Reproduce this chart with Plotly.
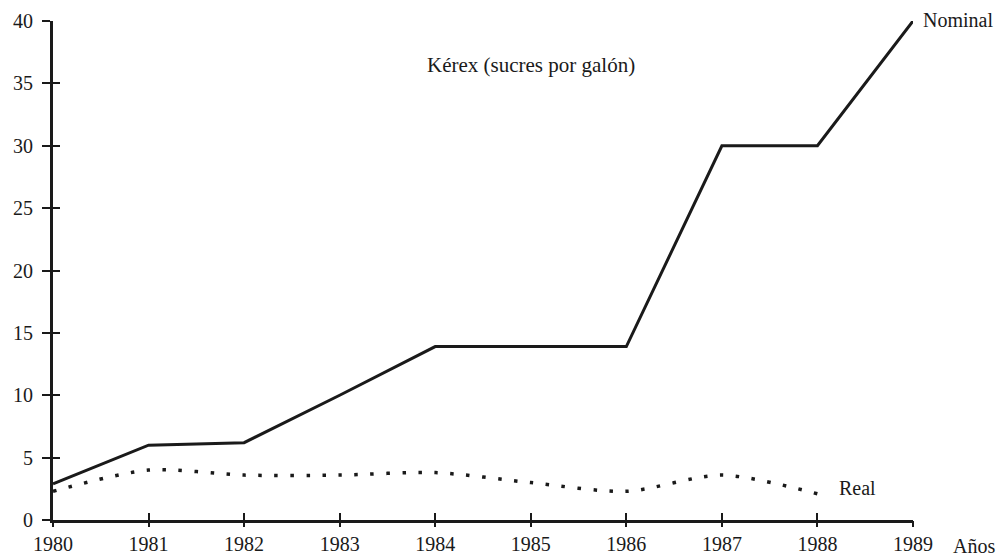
import plotly.graph_objects as go

years = [1980, 1981, 1982, 1983, 1984, 1985, 1986, 1987, 1988, 1989]
nominal = [2.9, 6.0, 6.2, 10.0, 13.9, 13.9, 13.9, 30.0, 30.0, 40.0]
real_years = [1980, 1981, 1982, 1983, 1984, 1985, 1986, 1987, 1988]
real = [2.3, 4.0, 3.6, 3.6, 3.8, 3.0, 2.3, 3.6, 2.1]
y_ticks = [0, 5, 10, 15, 20, 25, 30, 35, 40]

FONT = "Liberation Serif"
INK = "#1a1a1a"
fig = go.Figure()
fig.add_trace(go.Scatter(x=years, y=nominal, mode="lines",
                         line=dict(color=INK, width=3), name="Nominal"))
fig.add_trace(go.Scatter(x=real_years, y=real, mode="lines",
                         line=dict(color=INK, width=3.5, dash="3.5px,12.5px", shape="spline", smoothing=0.8),
                         name="Real"))
# invisible trace to activate overlay axes (for ticks crossing the axis lines)
fig.add_trace(go.Scatter(x=[years[0]], y=[y_ticks[0]], xaxis="x2", yaxis="y2",
                         mode="markers", marker=dict(opacity=0), hoverinfo="skip"))

fig.update_layout(
    width=997, height=552,
    margin=dict(l=45, r=92, t=13, b=40),
    paper_bgcolor="white", plot_bgcolor="white",
    showlegend=False,
    font=dict(family=FONT, size=20, color=INK),
    xaxis=dict(range=[1980, 1989], tickvals=years, showgrid=False, zeroline=False,
               showline=True, linecolor=INK, linewidth=3, automargin=False,
               ticks="inside", ticklen=7, tickwidth=2, tickcolor=INK, showticklabels=False),
    xaxis2=dict(range=[1980, 1989], tickvals=years, overlaying="x", showgrid=False, zeroline=False,
                showline=False, ticks="outside", ticklen=6, tickwidth=2, tickcolor=INK,
                showticklabels=True, side="bottom", automargin=False, anchor="y"),
    yaxis=dict(range=[0, 40], tickvals=y_ticks, showgrid=False, zeroline=False,
               showline=True, linecolor=INK, linewidth=3, automargin=False,
               ticks="outside", ticklen=8, tickwidth=2, tickcolor=INK, ticklabelstandoff=5),
    yaxis2=dict(range=[0, 40], tickvals=y_ticks, overlaying="y", showgrid=False, zeroline=False,
                showline=False, ticks="inside", ticklen=7, tickwidth=2, tickcolor=INK,
                showticklabels=False, side="left", automargin=False, anchor="x"),
)

fig.add_annotation(x=1985, y=36.5, text="Kérex (sucres por galón)", showarrow=False,
                   font=dict(size=21))
fig.add_annotation(x=1989, y=40, text="Nominal", showarrow=False, xanchor="left",
                   xshift=8, yshift=1, font=dict(size=20))
fig.add_annotation(x=1988, y=2.1, text="Real", showarrow=False, xanchor="left",
                   xshift=20, yshift=6, font=dict(size=20))
fig.add_annotation(x=1989, y=0, text="Años", showarrow=False, xanchor="left",
                   xshift=38, yshift=-26, font=dict(size=20))

fig.write_html("out.html")
